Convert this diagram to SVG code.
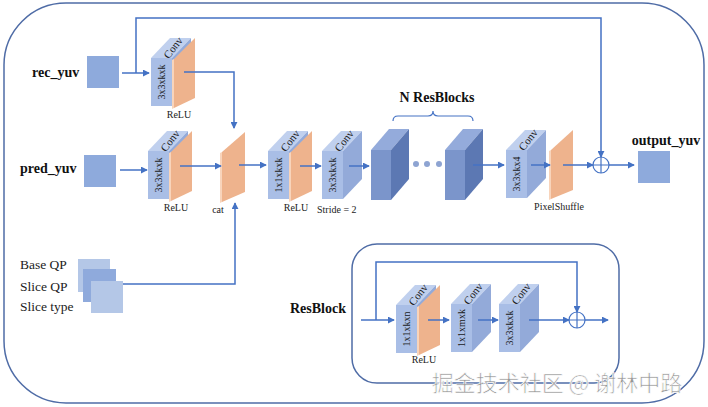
<svg xmlns="http://www.w3.org/2000/svg" width="708" height="407" viewBox="0 0 708 407">
<defs>
<marker id="ah" viewBox="0 0 8 8" refX="7" refY="4" markerWidth="7" markerHeight="7" markerUnits="userSpaceOnUse" orient="auto">
<path d="M0,0 L8,4 L0,8 Z" fill="#4472c4"/>
</marker>
<g id="conv">
<rect x="0" y="0" width="21" height="48" fill="#a9bee6"/>
<polygon points="0,0 21,0 40,-20 19,-20" fill="#c0d0ee"/>
<polygon points="21,0 40,-20 40,28 21,48" fill="#93aad9"/>
</g>
<g id="relu">
<polygon points="21,2 23,1 23,50 21,51" fill="#f8d4bb"/>
<polygon points="23,1 44,-20 44,40 23,50" fill="#eeb38d"/>
</g>
<g id="cube">
<rect x="0" y="0" width="20" height="50" fill="#7b95cb"/>
<polygon points="0,0 20,0 38,-21 18,-21" fill="#94abdb"/>
<polygon points="20,0 38,-21 38,29 20,50" fill="#5c78b3"/>
</g>
</defs>
<style>
.ln{fill:none;stroke:#4472c4;stroke-width:1.5}
.ar{fill:none;stroke:#4472c4;stroke-width:1.5;marker-end:url(#ah)}
.frame{fill:none;stroke:#4f6ca6;stroke-width:1.5}
text{font-family:'Liberation Serif','Times New Roman','DejaVu Serif',serif}
.lbl{font-size:10px;fill:#222}
.big{font-size:14px;font-weight:bold;fill:#111}
.qp{font-size:13.5px;fill:#222}
.ft{font-size:10px;fill:#1a1a1a}
.ct{font-size:11px;fill:#1a1a1a}
.sq{fill:#8eaadc}
.wm{font-family:'Noto Sans CJK SC',sans-serif;font-size:22px;fill:#959595;stroke:#ffffff;stroke-width:0.7}
</style>

<rect class="frame" x="4" y="3" width="700" height="400" rx="62" ry="62"/>

<g id="rec_yuv">
<text class="big" x="32" y="77">rec_yuv</text>
<rect class="sq" x="87" y="56" width="32" height="32"/>
</g>
<g id="pred_yuv">
<text class="big" x="20" y="173">pred_yuv</text>
<rect class="sq" x="84" y="155" width="32" height="32"/>
</g>
<g id="qp_inputs">
<text class="qp" x="20" y="269">Base QP</text>
<text class="qp" x="20" y="291">Slice QP</text>
<text class="qp" x="20" y="311">Slice type</text>
<rect x="78" y="259" width="32" height="33" fill="#b4c7e7"/>
<rect x="83" y="269" width="33" height="33" fill="#8faadc"/>
<rect x="91" y="281" width="32" height="32" fill="#b4c7e7"/>
</g>

<g id="conv_rec" transform="translate(151,58)">
<use href="#conv"/><use href="#relu"/>
<text class="ft" transform="translate(14,24) rotate(-90)" text-anchor="middle">3x3xkxk</text>
<text class="ct" transform="translate(25,-8) rotate(-52)" text-anchor="middle">Conv</text>
<text class="lbl" x="28" y="60" text-anchor="middle">ReLU</text>
</g>
<g id="conv_pred" transform="translate(148,151)">
<use href="#conv"/><use href="#relu"/>
<text class="ft" transform="translate(14,24) rotate(-90)" text-anchor="middle">3x3xkxk</text>
<text class="ct" transform="translate(25,-8) rotate(-52)" text-anchor="middle">Conv</text>
<text class="lbl" x="28" y="60" text-anchor="middle">ReLU</text>
</g>
<g id="cat">
<polygon points="220,153 222,152 222,202 220,203" fill="#f8d4bb"/>
<polygon points="222,152 245,132 245,192 222,202" fill="#eeb38d"/>
<text class="lbl" x="218" y="213" text-anchor="middle">cat</text>
</g>
<g id="conv_1x1" transform="translate(268,151)">
<use href="#conv"/><use href="#relu"/>
<text class="ft" transform="translate(14,24) rotate(-90)" text-anchor="middle">1x1xkxk</text>
<text class="ct" transform="translate(25,-8) rotate(-52)" text-anchor="middle">Conv</text>
<text class="lbl" x="28" y="60" text-anchor="middle">ReLU</text>
</g>
<g id="conv_stride" transform="translate(322,151)">
<use href="#conv"/>
<text class="ft" transform="translate(14,24) rotate(-90)" text-anchor="middle">3x3xkxk</text>
<text class="ct" transform="translate(25,-8) rotate(-52)" text-anchor="middle">Conv</text>
<text class="lbl" x="-5" y="62">Stride = 2</text>
</g>
<g id="resblocks">
<use href="#cube" transform="translate(371,150)"/>
<circle cx="416" cy="164" r="3" fill="#8ea4d2"/>
<circle cx="427" cy="164" r="3" fill="#8ea4d2"/>
<circle cx="439" cy="164" r="3" fill="#8ea4d2"/>
<use href="#cube" transform="translate(445,150)"/>
<path d="M393,121 Q393,116 398,116 L428,116 Q433,116 433,111 Q433,116 438,116 L468,116 Q473,116 473,121" fill="none" stroke="#4472c4" stroke-width="1.2"/>
<text class="big" x="437" y="102" text-anchor="middle">N ResBlocks</text>
</g>
<g id="conv_out" transform="translate(506,150)">
<use href="#conv"/>
<text class="ft" transform="translate(14,24) rotate(-90)" text-anchor="middle">3x3xkx4</text>
<text class="ct" transform="translate(25,-8) rotate(-52)" text-anchor="middle">Conv</text>
</g>
<g id="pixelshuffle">
<polygon points="549,151 551,150 551,199 549,200" fill="#f8d4bb"/>
<polygon points="551,150 573,130 573,190 551,199" fill="#eeb38d"/>
<text class="lbl" x="559" y="210" text-anchor="middle">PixelShuffle</text>
</g>
<g id="add_main">
<circle cx="601" cy="165" r="8" fill="none" stroke="#4472c4" stroke-width="1.2"/>
<path d="M593,165 H609 M601,157 V173" stroke="#4472c4" stroke-width="1.2"/>
</g>
<g id="output_yuv">
<text class="big" x="666" y="145" text-anchor="middle">output_yuv</text>
<rect class="sq" x="638" y="151" width="32" height="32"/>
</g>

<g id="resblock_detail">
<rect class="frame" x="352" y="244" width="267" height="139" rx="25" ry="25"/>
<text class="big" x="318" y="313" text-anchor="middle">ResBlock</text>
<g id="rb_conv1" transform="translate(396,305)">
<use href="#conv"/><use href="#relu"/>
<text class="ft" transform="translate(14,24) rotate(-90)" text-anchor="middle">1x1xkxn</text>
<text class="ct" transform="translate(25,-8) rotate(-52)" text-anchor="middle">Conv</text>
<text class="lbl" x="28" y="58" text-anchor="middle">ReLU</text>
</g>
<g id="rb_conv2" transform="translate(451,304)">
<use href="#conv"/>
<text class="ft" transform="translate(14,24) rotate(-90)" text-anchor="middle">1x1xmxk</text>
<text class="ct" transform="translate(25,-8) rotate(-52)" text-anchor="middle">Conv</text>
</g>
<g id="rb_conv3" transform="translate(499,304)">
<use href="#conv"/>
<text class="ft" transform="translate(14,24) rotate(-90)" text-anchor="middle">3x3xkxk</text>
<text class="ct" transform="translate(25,-8) rotate(-52)" text-anchor="middle">Conv</text>
</g>
<g id="rb_add">
<circle cx="577" cy="320" r="8" fill="none" stroke="#4472c4" stroke-width="1.2"/>
<path d="M569,320 H585 M577,312 V328" stroke="#4472c4" stroke-width="1.2"/>
</g>
</g>

<g id="connectors">
<path class="ar" d="M122,73 H149"/>
<path class="ln" d="M136,73 V18 H601 V150"/>
<path class="ar" d="M601,150 V157"/>
<path class="ar" d="M184,72 H234 V128"/>
<path class="ar" d="M120,170 H147"/>
<path class="ar" d="M180,166 H221"/>
<path class="ar" d="M123,284 H235 V203"/>
<path class="ar" d="M239,165 H266"/>
<path class="ar" d="M300,166 H321"/>
<path class="ar" d="M349,166 H369"/>
<path class="ar" d="M473,165 H504"/>
<path class="ar" d="M531,165 H550"/>
<path class="ar" d="M563,165 H593"/>
<path class="ar" d="M609,165 H634"/>
<path class="ar" d="M361,320 H394"/>
<path class="ln" d="M376,320 V262 H577 V305"/>
<path class="ar" d="M577,305 V312"/>
<path class="ar" d="M428,320 H449"/>
<path class="ar" d="M478,320 H498"/>
<path class="ar" d="M529,320 H569"/>
<path class="ar" d="M585,320 H608"/>
</g>

<text class="wm" x="557" y="391" text-anchor="middle">掘金技术社区 @ 谢林中路</text>
</svg>
